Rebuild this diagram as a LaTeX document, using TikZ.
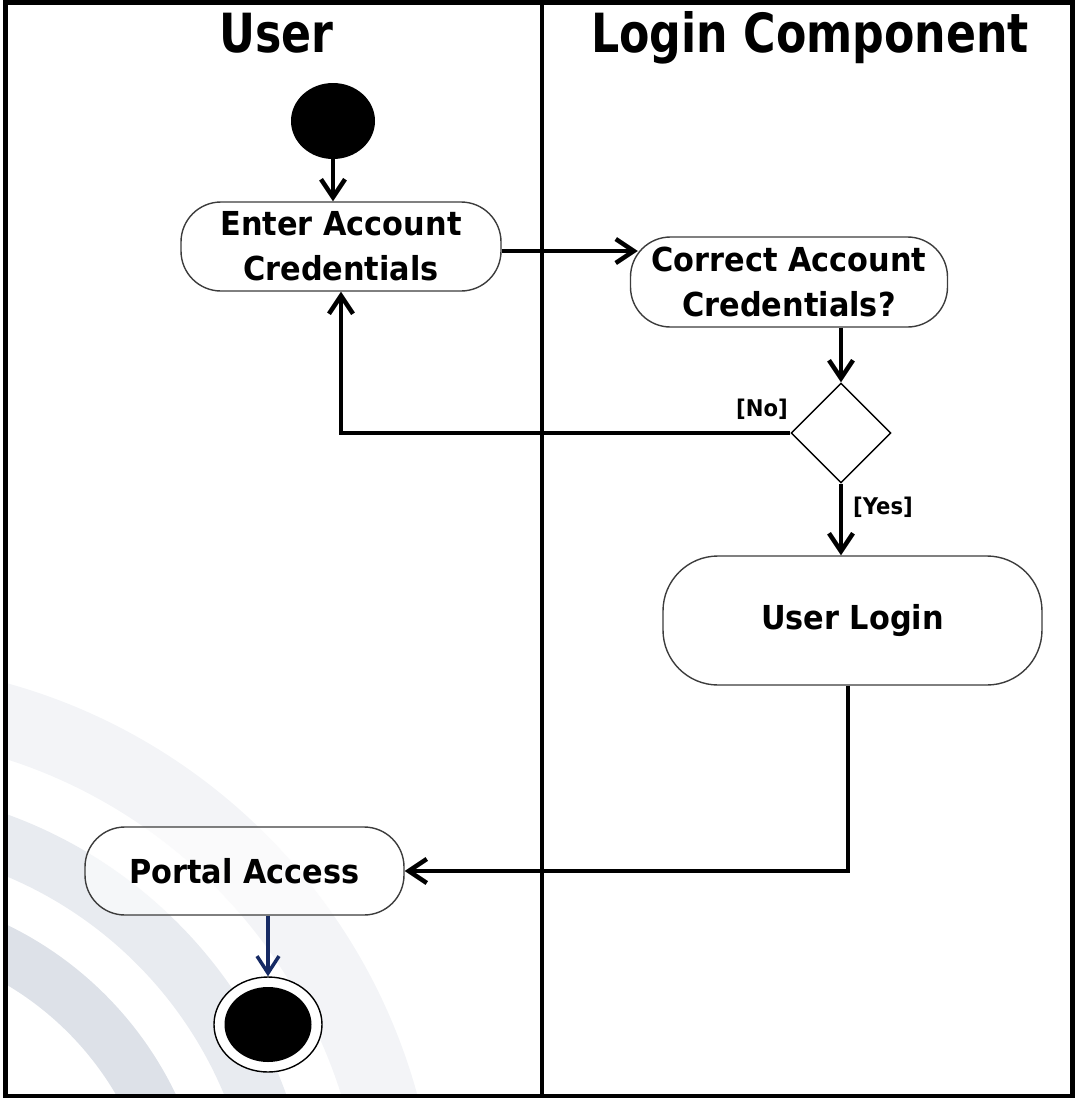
\documentclass[tikz,border=0pt]{standalone}
\usepackage{fontspec}
\setmainfont{DejaVu Sans}
\newfontfamily\hdfont{DejaVu Sans}[FakeStretch=0.82]
\newfontfamily\ndfont{DejaVu Sans}[FakeStretch=0.92]
\usetikzlibrary{shapes.geometric,arrows.meta,calc}
\definecolor{bandA}{RGB}{221,225,232}
\definecolor{bandB}{RGB}{232,235,240}
\definecolor{bandC}{RGB}{243,244,247}
\definecolor{navyline}{RGB}{22,42,100}
\definecolor{boxline}{RGB}{60,60,60}
\tikzset{
  hdtext/.style={font=\hdfont\bfseries\fontsize{54}{60}\selectfont, inner sep=0pt},
  actbox/.style={draw=boxline, line width=1.4pt, fill=white, fill opacity=0.6, text opacity=1,
    rounded corners=40pt, inner sep=0pt, align=center,
    font=\ndfont\bfseries\fontsize{33}{45}\selectfont},
  guard/.style={font=\ndfont\bfseries\fontsize{23}{26}\selectfont, inner sep=0pt},
  flow/.style={line width=4.5pt, -{Straight Barb[length=18pt,width=24pt]}},
  navyflow/.style={draw=navyline, line width=3.5pt, -{Straight Barb[length=17pt,width=22pt]}}
}
\begin{document}
\begin{tikzpicture}[x=1pt,y=-1pt]
\useasboundingbox (0,0) rectangle (1080,1098);
% background watermark arcs
\begin{scope}
  \clip (5,2) rectangle (1071,1096);
  \fill[bandC, even odd rule] (-150,1250) circle (588pt) (-150,1250) circle (515pt);
  \fill[bandB, even odd rule] (-150,1250) circle (463pt) (-150,1250) circle (405pt);
  \fill[bandA, even odd rule] (-150,1250) circle (361pt) (-150,1250) circle (308pt);
\end{scope}
% frame and swimlane divider
\draw[line width=5pt] (5,2) rectangle (1072,1096);
\draw[line width=4.5pt] (542,2) -- (542,1096);
% headers
\node[hdtext, anchor=base] (hUser) at (276.5,52) {User};
\node[hdtext, anchor=base] (hLogin) at (810,52) {Login Component};
% nodes
\node[ellipse, fill=black, minimum width=84pt, minimum height=76pt, inner sep=0pt] (start) at (333,121) {};
\node[actbox, minimum width=320pt, minimum height=89pt] (enter) at (341,246.5) {Enter Account\\Credentials};
\node[actbox, minimum width=317pt, minimum height=90pt] (correct) at (789,282) {Correct Account\\Credentials?};
\node[diamond, draw=black, line width=1.4pt, fill=white, minimum width=100pt, minimum height=100pt, inner sep=0pt] (dec) at (841,433) {};
\node[actbox, minimum width=379pt, minimum height=129pt, rounded corners=55pt] (login) at (852.5,620.5) {User Login};
\node[actbox, minimum width=319pt, minimum height=88pt] (portal) at (244.5,871) {Portal Access};
\node[ellipse, draw=black, line width=1.4pt, fill=white, minimum width=108pt, minimum height=95pt, inner sep=0pt] (endo) at (268,1024.5) {};
\node[ellipse, fill=black, minimum width=87pt, minimum height=75pt, inner sep=0pt] (endi) at (268,1024.5) {};
% guards
\node[guard] (gNo) at (762,409) {[No]};
\node[guard] (gYes) at (883,507) {[Yes]};
% connectors
\draw[flow] (start.south) -- (start.south |- enter.north);
\draw[flow] ($(enter.east)+(0,4.5)$) -- ($(correct.west)+(8,-31)$);
\draw[flow] (correct.south -| dec.north) -- (dec.north);
\draw[flow] (dec.west) -| (enter.south);
\draw[flow] (dec.south) -- (dec.south |- login.north);
\draw[flow] ($(login.south)+(-4.5,0)$) |- (portal.east);
\draw[navyflow] (portal.south -| endo.north) -- (endo.north);
\end{tikzpicture}
\end{document}
